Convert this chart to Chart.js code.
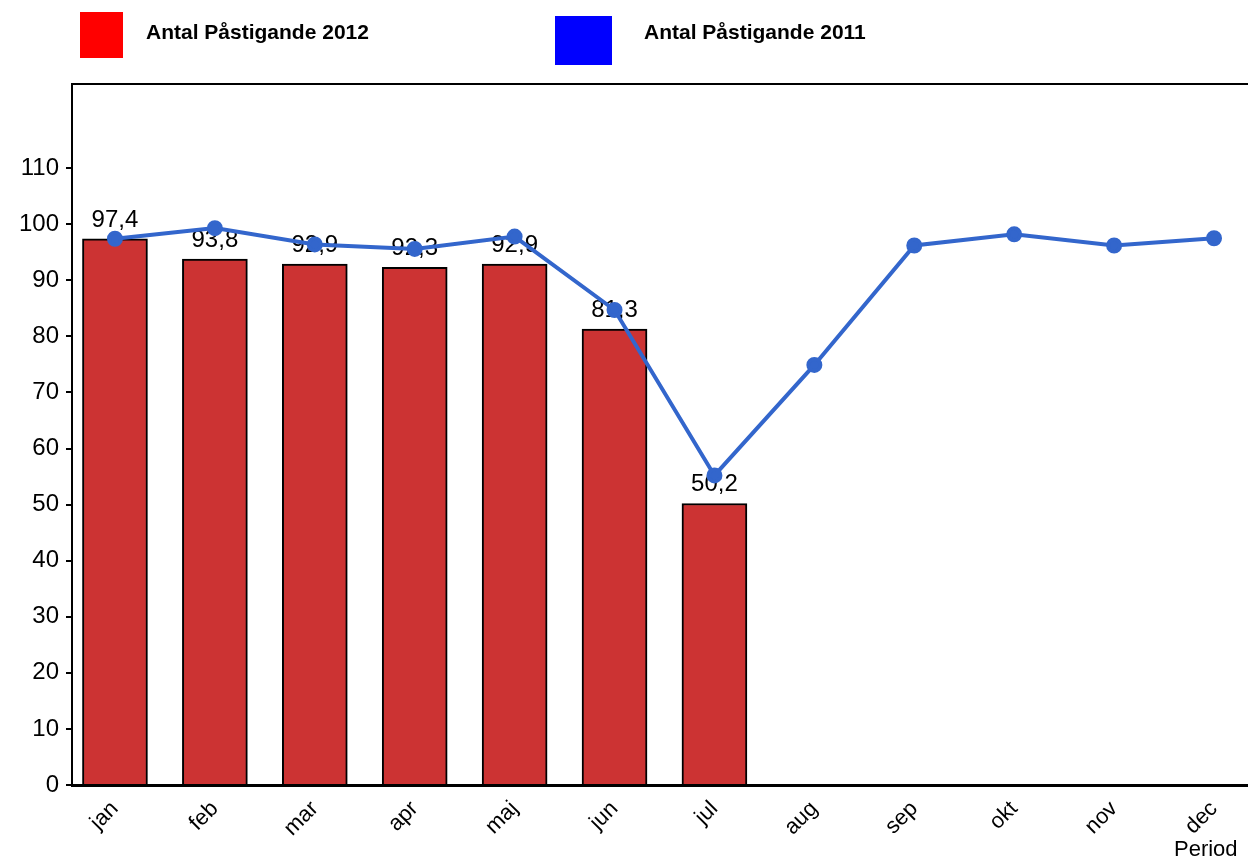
<!DOCTYPE html>
<html>
<head>
<meta charset="utf-8">
<script src="https://cdn.jsdelivr.net/npm/chart.js@4.4.0/dist/chart.umd.min.js"></script>
<style>
  html, body { margin: 0; padding: 0; background: #fff; }
  #wrap { position: relative; width: 1248px; height: 861px; font-family: "Liberation Sans", Arial, sans-serif; }
  #c { position: absolute; left: 0; top: 0; }
  .lg-box { position: absolute; }
  .lg-txt { position: absolute; font-weight: bold; font-size: 21px; color: #000; }
  #period { position: absolute; left: 1174px; top: 836px; font-size: 22px; color: #000; }
</style>
</head>
<body>
<div id="wrap">
  <canvas id="c" width="1248" height="861"></canvas>
  <div class="lg-box" style="left:80px;top:12px;width:43px;height:46px;background:#ff0000"></div>
  <div class="lg-txt" style="left:146px;top:20px">Antal Påstigande 2012</div>
  <div class="lg-box" style="left:555px;top:16px;width:57px;height:49px;background:#0000ff"></div>
  <div class="lg-txt" style="left:644px;top:20px">Antal Påstigande 2011</div>
  <div id="period">Period</div>
</div>
<script>
const months    = ['jan', 'feb', 'mar', 'apr', 'maj', 'jun', 'jul', 'aug', 'sep', 'okt', 'nov', 'dec'];
const pas2012   = [97.4, 93.8, 92.9, 92.3, 92.9, 81.3, 50.2, null, null, null, null, null];
const pas2011   = [97.4, 99.3, 96.4, 95.6, 97.8, 84.7, 55.2, 74.9, 96.2, 98.2, 96.2, 97.5];
const yTicks    = [0, 10, 20, 30, 40, 50, 60, 70, 80, 90, 100, 110];

const font = 'Liberation Sans, Arial, sans-serif';

// bar value labels, drawn right after the bars so the line sits on top
const barLabels = {
  id: 'barLabels',
  afterDatasetDraw(chart, args) {
    if (args.index !== 0) return;
    const ctx = chart.ctx;
    ctx.save();
    ctx.font = '24px ' + font;
    ctx.fillStyle = '#000';
    ctx.textAlign = 'center';
    ctx.textBaseline = 'alphabetic';
    args.meta.data.forEach((el, i) => {
      const v = pas2012[i];
      if (v == null) return;
      ctx.fillText(v.toFixed(1).replace('.', ','), el.x, el.y - 12);
    });
    ctx.restore();
  }
};

// top border of the plot frame, and the x axis line run out to the edge
const frame = {
  id: 'frame',
  afterDraw(chart) {
    const { ctx, chartArea: a } = chart;
    ctx.save();
    ctx.strokeStyle = '#000';
    ctx.lineWidth = 2;
    ctx.beginPath();
    ctx.moveTo(a.left, a.top);
    ctx.lineTo(1248, a.top);
    ctx.stroke();
    ctx.lineWidth = 3;
    ctx.beginPath();
    ctx.moveTo(a.right - 2, Math.round(a.bottom) + 0.5);
    ctx.lineTo(1248, Math.round(a.bottom) + 0.5);
    ctx.stroke();
    ctx.restore();
  }
};

new Chart(document.getElementById('c'), {
  data: {
    datasets: [{
      type: 'bar',
      label: 'Antal Påstigande 2012',
      data: months.map((m, i) => ({ x: i, y: pas2012[i] })),
      backgroundColor: '#cc3333',
      borderColor: '#000',
      borderWidth: 2,
      barThickness: 65,
      order: 1
    }, {
      type: 'line',
      label: 'Antal Påstigande 2011',
      data: months.map((m, i) => ({ x: i, y: pas2011[i] })),
      borderColor: '#3366cc',
      backgroundColor: '#3366cc',
      borderWidth: 4,
      pointRadius: 6,
      tension: 0,
      order: 0
    }]
  },
  options: {
    responsive: false,
    animation: false,
    layout: { padding: { top: 84, right: 0, left: 0, bottom: 0 } },
    plugins: { legend: { display: false }, tooltip: { enabled: false } },
    scales: {
      x: {
        type: 'linear',
        offset: false,
        min: -0.43,
        max: 11.24,
        afterBuildTicks: s => { s.ticks = months.map((m, i) => ({ value: i })); },
        afterFit: s => { s.height = 76; },
        grid: { display: false },
        border: { color: '#000', width: 3 },
        ticks: {
          autoSkip: false,
          minRotation: 45,
          maxRotation: 45,
          color: '#000',
          font: { family: font, size: 22 },
          callback: v => months[v]
        }
      },
      y: {
        min: 0,
        max: 125,
        afterBuildTicks: s => { s.ticks = yTicks.map(v => ({ value: v })); },
        afterFit: s => { s.width = 72; },
        grid: { drawOnChartArea: false, tickLength: 6, color: '#000', lineWidth: 2 },
        border: { color: '#000', width: 2 },
        ticks: {
          color: '#000',
          padding: 7,
          font: { family: font, size: 24 }
        }
      }
    }
  },
  plugins: [barLabels, frame]
});
</script>
</body>
</html>
